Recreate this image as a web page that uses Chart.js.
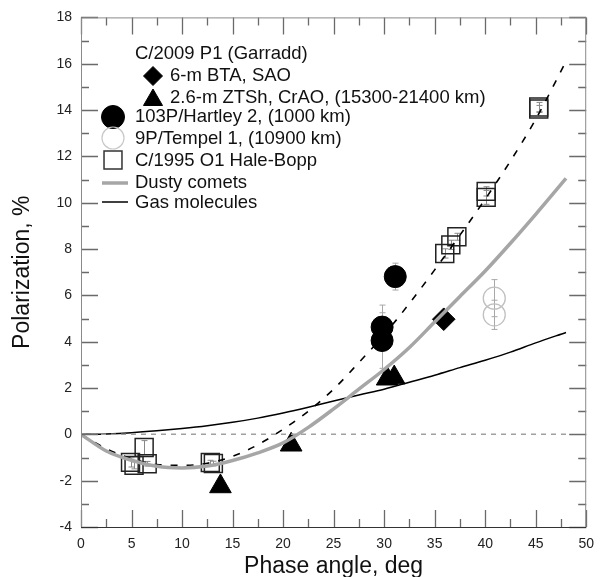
<!DOCTYPE html>
<html lang="en">
<head>
    <meta charset="UTF-8">
    <title>Polarization vs phase angle</title>
    <script src="https://cdn.jsdelivr.net/npm/chart.js"></script>
    <style>
        body {
            margin: 0;
            padding: 0;
            background-color: #fff;
        }
        #chart {
            display: block;
        }
    </style>
</head>
<body>

<canvas id="chart" width="603" height="577"></canvas>

<script>
    // phase angle grid for the model curves
    const curveAngles = [0, 2.5, 5, 7.5, 10, 12.5, 15, 17.5, 20, 22.5, 25, 27.5, 30, 32.5, 35, 37.5, 40, 42.5, 45, 48];
    const dustyComets = [0, -0.72, -1.12, -1.38, -1.45, -1.37, -1.13, -0.8, -0.37, 0.3, 1.1, 1.95, 2.8, 3.75, 4.85, 5.95, 7.05, 8.25, 9.5, 11.05];
    const gasMolecules = [0, 0.02, 0.07, 0.15, 0.25, 0.37, 0.52, 0.7, 0.92, 1.17, 1.44, 1.7, 1.95, 2.25, 2.55, 2.88, 3.2, 3.55, 3.95, 4.4];
    const haleBoppFit = [0, -0.62, -1.05, -1.3, -1.34, -1.25, -0.95, -0.45, 0.22, 1.0, 1.95, 3.1, 4.3, 5.65, 7.1, 8.6, 10.15, 11.8, 13.6, 16.1];
    const zeroLineAngles = [0, 48];
    const zeroLinePol = [0, 0];

    // C/2009 P1 (Garradd)
    const btaAngle = [35.9];
    const btaPol = [4.97];
    const ztshAngle = [13.8, 20.8, 30.3, 31.0];
    const ztshPol = [-2.25, -0.45, 2.4, 2.45];

    // 103P/Hartley 2
    const hartleyAngle = [29.8, 29.8, 31.1];
    const hartleyPol = [4.63, 4.05, 6.81];
    const hartleyErr = [0.95, 1.2, 0.58];

    // 9P/Tempel 1
    const tempelAngle = [40.9, 40.9];
    const tempelPol = [5.88, 5.16];
    const tempelErr = [0.8, 0.63];

    // C/1995 O1 Hale-Bopp
    const haleBoppAngle = [4.9, 5.25, 6.25, 6.55, 12.8, 13.1, 36.0, 36.6, 37.2, 40.1, 40.1, 45.3, 45.3];
    const haleBoppPol = [-1.21, -1.34, -0.57, -1.27, -1.22, -1.26, 7.81, 8.18, 8.53, 10.23, 10.49, 14.05, 14.13];
    const haleBoppErr = [0.2, 0.15, 0.3, 0.1, 0.1, 0.1, 0.2, 0.2, 0.15, 0.3, 0.2, 0.15, 0.2];

    const xTicks = [0, 5, 10, 15, 20, 25, 30, 35, 40, 45, 50];
    const yTicks = [-4, -2, 0, 2, 4, 6, 8, 10, 12, 14, 16, 18];
    const xMinorTicks = [2.5, 7.5, 12.5, 17.5, 22.5, 27.5, 32.5, 37.5, 42.5, 47.5];
    const yMinorTicks = [-3, -1, 1, 3, 5, 7, 9, 11, 13, 15, 17];

    const fontFamily = 'Arial, "Liberation Sans", sans-serif';

    function toPoints(xs, ys) {
        return xs.map((x, i) => ({x: x, y: ys[i]}));
    }

    const errorBarSets = [
        {xs: hartleyAngle, ys: hartleyPol, err: hartleyErr, color: '#a8a8a8'},
        {xs: tempelAngle, ys: tempelPol, err: tempelErr, color: '#a8a8a8'},
        {xs: haleBoppAngle, ys: haleBoppPol, err: haleBoppErr, color: '#888'}
    ];

    const errorBars = {
        id: 'errorBars',
        beforeDatasetsDraw(chart) {
            const ctx = chart.ctx;
            const sx = chart.scales.x, sy = chart.scales.y;
            ctx.save();
            ctx.lineWidth = 1;
            errorBarSets.forEach(set => {
                ctx.strokeStyle = set.color;
                set.xs.forEach((a, i) => {
                    const px = Math.round(sx.getPixelForValue(a)) + 0.5;
                    const top = sy.getPixelForValue(set.ys[i] + set.err[i]);
                    const bot = sy.getPixelForValue(set.ys[i] - set.err[i]);
                    ctx.beginPath();
                    ctx.moveTo(px, top); ctx.lineTo(px, bot);
                    ctx.moveTo(px - 3, top); ctx.lineTo(px + 3, top);
                    ctx.moveTo(px - 3, bot); ctx.lineTo(px + 3, bot);
                    ctx.stroke();
                });
            });
            ctx.restore();
        }
    };

    // frame with inward ticks, placed through the scales
    const frameTicks = {
        id: 'frameTicks',
        afterDraw(chart) {
            const ctx = chart.ctx;
            const a = chart.chartArea;
            const sx = chart.scales.x, sy = chart.scales.y;
            ctx.save();
            ctx.setLineDash([]);
            ctx.lineWidth = 1.3;
            ctx.strokeStyle = '#6a6a6a';
            ctx.beginPath();
            xTicks.forEach(v => {
                const px = Math.round(sx.getPixelForValue(v)) + 0.5;
                ctx.moveTo(px, a.bottom); ctx.lineTo(px, a.bottom - 17);
                ctx.moveTo(px, a.top); ctx.lineTo(px, a.top + 17);
            });
            xMinorTicks.forEach(v => {
                const px = Math.round(sx.getPixelForValue(v)) + 0.5;
                ctx.moveTo(px, a.bottom); ctx.lineTo(px, a.bottom - 8);
                ctx.moveTo(px, a.top); ctx.lineTo(px, a.top + 8);
            });
            yTicks.forEach(v => {
                const py = Math.round(sy.getPixelForValue(v)) + 0.5;
                ctx.moveTo(a.left, py); ctx.lineTo(a.left + 17, py);
                ctx.moveTo(a.right, py); ctx.lineTo(a.right - 17, py);
            });
            yMinorTicks.forEach(v => {
                const py = Math.round(sy.getPixelForValue(v)) + 0.5;
                ctx.moveTo(a.left, py); ctx.lineTo(a.left + 8, py);
                ctx.moveTo(a.right, py); ctx.lineTo(a.right - 8, py);
            });
            ctx.stroke();
            ctx.lineWidth = 1;
            ctx.strokeStyle = '#8a8a8a';
            ctx.beginPath();
            ctx.moveTo(a.left + 0.5, a.bottom); ctx.lineTo(a.left + 0.5, a.top + 0.5);
            ctx.lineTo(a.right - 0.5, a.top + 0.5); ctx.lineTo(a.right - 0.5, a.bottom);
            ctx.stroke();
            ctx.strokeStyle = '#333';
            ctx.beginPath();
            ctx.moveTo(a.left, a.bottom + 0.5); ctx.lineTo(a.right, a.bottom + 0.5);
            ctx.stroke();
            ctx.restore();
        }
    };

    const legendBox = {
        id: 'legendBox',
        afterDraw(chart) {
            const ctx = chart.ctx;
            const draw = Chart.helpers.drawPoint;
            ctx.save();
            ctx.font = '18.5px ' + fontFamily;
            ctx.fillStyle = '#111';
            ctx.textBaseline = 'middle';
            ctx.fillText('C/2009 P1 (Garradd)', 135, 54);

            ctx.fillStyle = '#000'; ctx.strokeStyle = '#000'; ctx.lineWidth = 1;
            draw(ctx, {pointStyle: 'rectRot', radius: 9.5, borderWidth: 1}, 153, 76);
            draw(ctx, {pointStyle: 'triangle', radius: 11, borderWidth: 1}, 153, 100);
            draw(ctx, {pointStyle: 'circle', radius: 11.5, borderWidth: 1}, 113, 117);
            ctx.fillStyle = 'rgba(0,0,0,0)'; ctx.strokeStyle = '#c8c8c8'; ctx.lineWidth = 1.2;
            draw(ctx, {pointStyle: 'circle', radius: 11, borderWidth: 1.2}, 113, 138);
            ctx.strokeStyle = '#333'; ctx.lineWidth = 1.5;
            draw(ctx, {pointStyle: 'rect', radius: 12.7, borderWidth: 1.5}, 113, 160);

            ctx.lineWidth = 3.5; ctx.strokeStyle = '#a6a6a6';
            ctx.beginPath(); ctx.moveTo(102, 183); ctx.lineTo(128, 183); ctx.stroke();
            ctx.lineWidth = 1.5; ctx.strokeStyle = '#000';
            ctx.beginPath(); ctx.moveTo(102, 202); ctx.lineTo(128, 202); ctx.stroke();

            ctx.fillStyle = '#111';
            ctx.fillText('6-m BTA, SAO', 170, 76);
            ctx.fillText('2.6-m ZTSh, CrAO, (15300-21400 km)', 170, 98);
            ctx.fillText('103P/Hartley 2, (1000 km)', 135, 117);
            ctx.fillText('9P/Tempel 1, (10900 km)', 135, 139);
            ctx.fillText('C/1995 O1 Hale-Bopp', 135, 161);
            ctx.fillText('Dusty comets', 135, 183);
            ctx.fillText('Gas molecules', 135, 203);
            ctx.restore();
        }
    };

    const lineDefaults = {showLine: true, pointRadius: 0, fill: false, tension: 0, cubicInterpolationMode: 'monotone'};

    new Chart(document.getElementById('chart'), {
        type: 'scatter',
        data: {
            datasets: [
                Object.assign({}, lineDefaults, {
                    label: 'zero',
                    data: toPoints(zeroLineAngles, zeroLinePol),
                    borderColor: '#a0a0a0', borderWidth: 1.5, borderDash: [5, 5]
                }),
                Object.assign({}, lineDefaults, {
                    label: 'Dusty comets',
                    data: toPoints(curveAngles, dustyComets),
                    borderColor: '#a6a6a6', borderWidth: 3.5
                }),
                Object.assign({}, lineDefaults, {
                    label: 'Gas molecules',
                    data: toPoints(curveAngles, gasMolecules),
                    borderColor: '#000', borderWidth: 1.5
                }),
                Object.assign({}, lineDefaults, {
                    label: 'Hale-Bopp fit',
                    data: toPoints(curveAngles, haleBoppFit),
                    borderColor: '#000', borderWidth: 1.6, borderDash: [7, 9]
                }),
                {
                    label: 'C/1995 O1 Hale-Bopp',
                    data: toPoints(haleBoppAngle, haleBoppPol),
                    pointStyle: 'rect', pointRadius: 12.7,
                    backgroundColor: 'rgba(0,0,0,0)', borderColor: '#222', borderWidth: 1.5
                },
                {
                    label: '9P/Tempel 1',
                    data: toPoints(tempelAngle, tempelPol),
                    pointStyle: 'circle', pointRadius: 11,
                    backgroundColor: 'rgba(0,0,0,0)', borderColor: '#c0c0c0', borderWidth: 1.3
                },
                {
                    label: '103P/Hartley 2',
                    data: toPoints(hartleyAngle, hartleyPol),
                    pointStyle: 'circle', pointRadius: 11,
                    backgroundColor: '#000', borderColor: '#000', borderWidth: 1
                },
                {
                    label: '2.6-m ZTSh, CrAO',
                    data: toPoints(ztshAngle, ztshPol),
                    pointStyle: 'triangle', pointRadius: 12.5,
                    backgroundColor: '#000', borderColor: '#000', borderWidth: 1
                },
                {
                    label: '6-m BTA, SAO',
                    data: toPoints(btaAngle, btaPol),
                    pointStyle: 'rectRot', pointRadius: 11.3,
                    backgroundColor: '#000', borderColor: '#000', borderWidth: 1
                }
            ]
        },
        options: {
            responsive: false,
            animation: false,
            devicePixelRatio: 1,
            layout: {padding: {left: 0, right: 12, top: 16, bottom: 0}},
            plugins: {legend: {display: false}, tooltip: {enabled: false}},
            scales: {
                x: {
                    type: 'linear', min: 0, max: 50,
                    afterFit: s => { s.height = 50; },
                    afterBuildTicks: s => { s.ticks = xTicks.map(v => ({value: v})); },
                    grid: {display: false, drawTicks: false},
                    border: {display: false},
                    ticks: {padding: 9, color: '#222', font: {family: fontFamily, size: 14}, maxRotation: 0},
                    title: {display: true, text: 'Phase angle, deg', color: '#111',
                        font: {family: fontFamily, size: 23}, padding: {top: 0, bottom: -3}}
                },
                y: {
                    type: 'linear', min: -4, max: 18,
                    afterFit: s => { s.width = 81; },
                    afterBuildTicks: s => { s.ticks = yTicks.map(v => ({value: v})); },
                    grid: {display: false, drawTicks: false},
                    border: {display: false},
                    ticks: {padding: 9, color: '#222', font: {family: fontFamily, size: 14}},
                    title: {display: true, text: 'Polarization, %', color: '#111',
                        font: {family: fontFamily, size: 23}, padding: {top: 9, bottom: 0}}
                }
            }
        },
        plugins: [errorBars, frameTicks, legendBox]
    });
</script>

</body>
</html>
